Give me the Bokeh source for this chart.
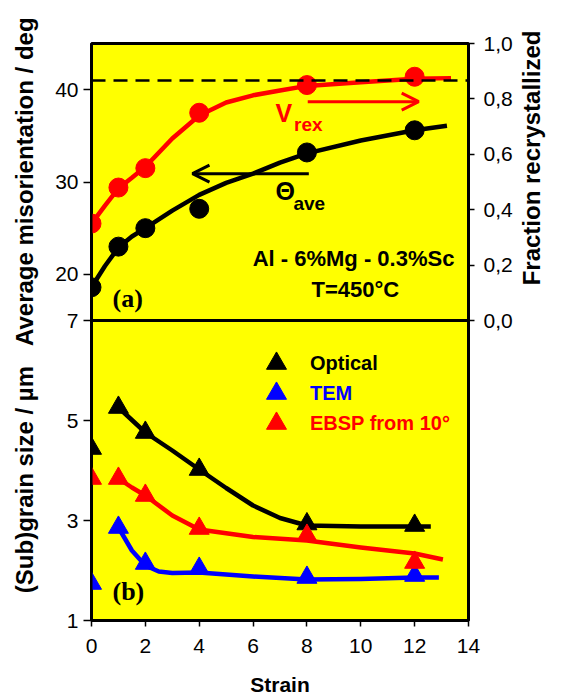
import math
from bokeh.plotting import figure
from bokeh.models import (Range1d, LinearAxis, FixedTicker, Span, Label, Arrow,
                          OpenHead, Legend, LegendItem)
from bokeh.embed import file_html
from bokeh.resources import INLINE

# ---------------- data ----------------
strain = [0, 1, 2, 4, 8, 12]

# (a) average misorientation (deg, left axis) and fraction recrystallized (right axis)
misorientation = [18.6, 23.0, 25.0, 27.1, 33.2, 35.6]
fraction_rex = [0.35, 0.48, 0.55, 0.75, 0.85, 0.88]
mis_fit_x = [0, 0.5, 1, 1.5, 2, 3, 4, 5, 6, 7, 8, 10, 12, 13.2]
mis_fit = [18.6, 20.9, 22.9, 24.1, 25.0, 26.9, 28.6, 29.9, 30.9, 32.1, 33.1, 34.5, 35.6, 36.1]
rex_fit_x = [0, 0.5, 1, 1.5, 2, 3, 4, 5, 6, 7, 8, 10, 12, 13.35]
rex_fit = [0.35, 0.415, 0.477, 0.515, 0.555, 0.657, 0.74, 0.787, 0.813, 0.83, 0.847, 0.86, 0.873, 0.875]
full_rex_deg = 41.0

# (b) (sub)grain size, micrometres
optical = [4.44, 5.26, 4.76, 4.02, 2.93, 2.90]
tem = [1.74, 2.86, 2.14, 2.04, 1.86, 1.90]
ebsp = [3.84, 3.84, 3.50, 2.84, 2.70, 2.16]
optical_fit_x = [1, 2, 3, 4, 5, 6, 7, 8, 10, 12, 12.6]
optical_fit = [5.26, 4.76, 4.40, 4.02, 3.65, 3.30, 3.05, 2.90, 2.88, 2.88, 2.88]
ebsp_fit_x = [1, 1.5, 2, 3, 4, 6, 8, 10, 12, 13.05]
ebsp_fit = [3.84, 3.66, 3.50, 3.10, 2.82, 2.67, 2.60, 2.46, 2.34, 2.22]
tem_fit_x = [1, 1.5, 2, 2.5, 3, 4, 6, 8, 10, 12, 12.9]
tem_fit = [2.86, 2.40, 2.10, 1.98, 1.95, 1.96, 1.88, 1.82, 1.83, 1.86, 1.86]

x_ticks = [0, 2, 4, 6, 8, 10, 12, 14]
deg_ticks = [20, 30, 40]
size_ticks = [1, 3, 5, 7]
frac_ticks = [0, 0.2, 0.4, 0.6, 0.8, 1]
frac_labels = ["0,0", "0,2", "0,4", "0,6", "0,8", "1,0"]

title_size = "(Sub)grain size / \u00b5m"
title_deg = "Average misorientation / deg"
title_frac = "Fraction recrystallized"

# ---------------- layout ----------------
W, H = 562, 698
FRAME_L, FRAME_R, FRAME_T, FRAME_B = 91, 468, 43, 620
TOP_PX = 277      # height of panel (a)
BOT_PX = FRAME_B - FRAME_T - TOP_PX   # height of panel (b)
DEG_LO, DEG_HI = 15, 45
SIZE_LO, SIZE_HI = 1, 7

size_per_px = (SIZE_HI - SIZE_LO) / BOT_PX
deg_per_px = (DEG_HI - DEG_LO) / TOP_PX
frac_per_px = 1.0 / TOP_PX

size_range = Range1d(SIZE_LO, SIZE_HI + TOP_PX * size_per_px)
deg_range = Range1d(DEG_LO - BOT_PX * deg_per_px, DEG_HI)
frac_range = Range1d(0 - BOT_PX * frac_per_px, 1)

FONT = "Liberation Sans"
YELLOW = "#FFFF00"
NB = "\u00a0"

p = figure(width=W, height=H, x_range=Range1d(0, 14), y_range=size_range,
           output_backend="svg", toolbar_location=None,
           min_border_left=FRAME_L, min_border_right=W - FRAME_R,
           min_border_top=FRAME_T, min_border_bottom=H - FRAME_B,
           background_fill_color=YELLOW, border_fill_color="white",
           outline_line_color="black", outline_line_width=3)
p.extra_y_ranges = {"deg": deg_range, "frac": frac_range}
p.grid.visible = False

has_orient = "axis_label_orientation" in LinearAxis.properties()

# ---- left axis: deg ticks in panel (a), size ticks in panel (b)
def deg_to_size(d):
    return SIZE_HI + (d - DEG_LO) / deg_per_px * size_per_px

left_ticks = list(size_ticks) + [deg_to_size(d) for d in deg_ticks]
left_over = {t: str(t) for t in size_ticks}
for d in deg_ticks:
    left_over[deg_to_size(d)] = str(d)

yax = p.yaxis[0]
yax.ticker = FixedTicker(ticks=left_ticks)
yax.major_label_overrides = left_over
yax.minor_tick_line_color = None
yax.major_tick_out = 8
yax.major_tick_in = 0
yax.major_tick_line_width = 1.5
yax.axis_line_width = 2
yax.major_label_standoff = 5
yax.major_label_text_font = FONT
yax.major_label_text_font_size = "21px"
yax.major_label_text_color = "black"
# both left titles share one line of text, as in the original figure
yax.axis_label = NB * 8 + title_size + NB * 3 + title_deg
yax.axis_label_standoff = 14
yax.axis_label_text_font = FONT
yax.axis_label_text_font_size = "24px"
yax.axis_label_text_font_style = "bold"
yax.axis_label_text_color = "black"

# ---- right axis: fraction recrystallized
rax = LinearAxis(y_range_name="frac", ticker=FixedTicker(ticks=frac_ticks),
                 major_label_overrides={t: l for t, l in zip(frac_ticks, frac_labels)})
rax.minor_tick_line_color = None
rax.major_tick_out = 6
rax.major_tick_in = 0
rax.major_tick_line_width = 1.5
rax.axis_line_width = 2
rax.major_label_standoff = 9
rax.major_label_text_font = FONT
rax.major_label_text_font_size = "21px"
rax.major_label_text_color = "black"
if has_orient:
    # text starts at the frame's mid-height and reads upwards
    rax.axis_label_orientation = math.pi / 2
    rax.axis_label = NB * 7 + title_frac
else:
    rax.axis_label = title_frac + NB * 51
rax.axis_label_standoff = 16
rax.axis_label_text_font = FONT
rax.axis_label_text_font_size = "24px"
rax.axis_label_text_font_style = "bold"
rax.axis_label_text_color = "black"
p.add_layout(rax, "right")

# ---- bottom axis
xax = p.xaxis[0]
xax.ticker = FixedTicker(ticks=x_ticks)
xax.minor_tick_line_color = None
xax.major_tick_out = 6
xax.major_tick_in = 0
xax.major_tick_line_width = 1.5
xax.axis_line_width = 2
xax.major_label_standoff = 12
xax.major_label_text_font = FONT
xax.major_label_text_font_size = "21px"
xax.major_label_text_color = "black"
xax.axis_label = "Strain"
xax.axis_label_standoff = 17
xax.axis_label_text_font = FONT
xax.axis_label_text_font_size = "21px"
xax.axis_label_text_font_style = "bold"
xax.axis_label_text_color = "black"

# ---------------- panel (a) ----------------
p.line(mis_fit_x, mis_fit, y_range_name="deg", line_color="black", line_width=4.5, line_join="round")
p.line(rex_fit_x, rex_fit, y_range_name="frac", line_color="red", line_width=4.5, line_join="round")
p.scatter(strain, misorientation, y_range_name="deg", marker="circle", size=19,
          fill_color="black", line_color="black")
p.scatter(strain, fraction_rex, y_range_name="frac", marker="circle", size=19,
          fill_color="red", line_color="red")

p.add_layout(Span(location=full_rex_deg, dimension="width", y_range_name="deg",
                  line_color="black", line_width=2.5, line_dash="14 8"))
p.add_layout(Span(location=SIZE_HI, dimension="width", line_color="black", line_width=3))

p.add_layout(Arrow(x_start=8.07, y_start=30.9, x_end=3.75, y_end=30.9, y_range_name="deg",
                   line_color="black", line_width=3,
                   end=OpenHead(size=17, line_width=3, line_color="black")))
p.add_layout(Arrow(x_start=8.03, y_start=38.7, x_end=12.15, y_end=38.7, y_range_name="deg",
                   line_color="red", line_width=3,
                   end=OpenHead(size=17, line_width=3, line_color="red")))

def add_text(txt, x, y, size, color="black", align="left", rng="deg", font=FONT, style="bold"):
    p.add_layout(Label(x=x, y=y, y_range_name=rng, text=txt, text_font=font,
                       text_font_size=size, text_font_style=style, text_color=color,
                       text_align=align, text_baseline="middle"))

add_text("V", 6.83, 37.5, "25px", color="red")
add_text("rex", 7.52, 36.2, "19px", color="red")
add_text("\u0398", 6.83, 29.0, "25px")
add_text("ave", 7.5, 27.7, "19px")
add_text("Al - 6%Mg - 0.3%Sc", 9.73, 21.7, "22px", align="center")
add_text("T=450\u00b0C", 9.8, 18.4, "22px", align="center")
add_text("(a)", 0.78, 17.4, "26px", font="Liberation Serif")

# ---------------- panel (b) ----------------
p.line(optical_fit_x, optical_fit, line_color="black", line_width=4.5, line_join="round")
p.line(ebsp_fit_x, ebsp_fit, line_color="red", line_width=4.5, line_join="round")
p.line(tem_fit_x, tem_fit, line_color="blue", line_width=4.5, line_join="round")
r_opt = p.scatter(strain, optical, marker="triangle", size=20, fill_color="black", line_color="black")
r_tem = p.scatter(strain, tem, marker="triangle", size=20, fill_color="blue", line_color="blue")
r_ebsp = p.scatter(strain, ebsp, marker="triangle", size=20, fill_color="red", line_color="red")

add_text("(b)", 0.78, 1.58, "26px", rng="default", font="Liberation Serif")

# legend: one entry per Legend so rows can sit close together
glyph_box = 50
for lab, rend, col, yc in [("Optical", r_opt, "black", 363),
                           ("TEM", r_tem, "blue", 393),
                           ("EBSP from 10\u00b0", r_ebsp, "red", 423)]:
    leg = Legend(items=[LegendItem(label=lab, renderers=[rend])],
                 location=(276 - glyph_box // 2 - FRAME_L, FRAME_B - (yc + glyph_box // 2)),
                 glyph_width=glyph_box, glyph_height=glyph_box, label_standoff=9,
                 padding=0, margin=0, spacing=0,
                 background_fill_alpha=0, border_line_alpha=0,
                 label_text_font=FONT, label_text_font_size="20px",
                 label_text_font_style="bold", label_text_color=col)
    p.add_layout(leg)

open("out.html", "w").write(file_html(p, INLINE))
